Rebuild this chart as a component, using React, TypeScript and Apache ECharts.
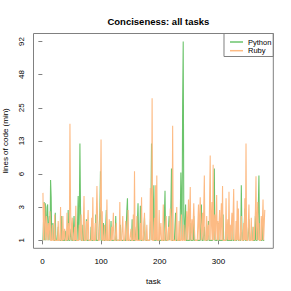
import React, { useEffect, useRef } from "react";
import * as echarts from "echarts";

const title = "Conciseness: all tasks";
const seriesNames = ["Python", "Ruby"];
const xTicks = [0, 100, 200, 300];
const yTickLabels = ["1", "3", "6", "13", "25", "48", "92"];

// minimum lines of code per task (task 1..379)
const python = [
  1,1,3.2,1,3.1,1,1,2.8,3,1,1,2.2,1,5.4,3.6,1,1,1.8,1,1,
  1,2.4,1,1,1,1,1.6,1,1,1,1,1,2.2,1,1,1,1,1,1,1.4,
  1,1,1,2.6,1,1,1,1,1.5,1,1,1,1,2.2,1,1,1,1,1,1.8,
  3.7,1,2.4,12,2.8,1,1,1,1.7,1,1,1,1,1,2,1,1,1,1,1,
  1,1,1.6,1,1,1,1,1,1,1,2.3,1,1,1,1,1,1,2.5,6.6,1,
  1,1,1,1.8,1,1,1,1,2.6,1,1,1,1,1,1,1,1.9,1,1,1,
  1,1,1,1,2.2,1,1,1,1,1,1,1,1.7,1,1,1,1,1,1,1,
  1,1,1,2.6,3.5,1,1,1,1,1,1,1,2,1,1,1,1,1,1,1.6,
  1,1,3.1,1,1,1,2.9,1,1,1,1,1,1,2.1,1,1,1,1,1,1,
  1,1,1,1.8,2.6,12,4.6,1,1,4.8,1,1,1,1.7,1,1,1,1,1,1,
  1,1,1,1,1,1,1,2.4,4.2,1,1,1,1,1,1,2.2,1,1,2.8,7,
  1,1,1,1,1,1,2.4,1,1,1,1,1,1,1,2.1,6.4,3,1,27,92,
  2.2,1,1,3,1,1,1,1,1,1,1,1.8,1,1,1,1,1,2.2,1,1,
  1,1,1,1,1,1,1,1,1,1,3,1,1,1,1,1.6,1,1,1,1,
  1,1,1.9,1,1,1,1,1,1,1,1,2.6,7,1,1,1,1,1,1,1.8,
  1,1,1,1,1,1,1,2.3,1,1,1,1,1,1.7,1,1,1,1,1,1,
  1,1,1,2.2,1,1,1,1,1,1,1,1,2.4,1,1,1,1,1,4.8,1.5,
  1,1,1,1,2.7,1,1,1,1,1,1,2,1,1,1,1,1.6,1,1,1,
  1,1,2.2,1,1,1,1,2.8,6,1,1,1,1,1,2,1,1,1,1,
];

const ruby = [
  4,1,3.1,2.6,1,1,2.2,1,1,1.8,1,1,2.5,1,1,1,1.7,1,1,1,
  2.3,1,1,1,1,1,1.9,1,1,1,2.8,1,1,1,2.2,1,1,1.5,1,1,
  1,2.4,1,1,1.8,1,18,3.2,1,1,2.1,1,1,1,1.6,1,2.9,1,1,1,
  1,1,1.7,1,1,2.3,1,1,1,1,3.7,1,1,1,1.9,1,1,2.6,1,1,
  1,1,1,2.1,1,3.6,1,1,1,1.8,1,1,4.7,2.2,1,1,1,1,3.2,13,
  1,2.5,1,1,1,1.7,1,1,1,3.4,1,1,1,2,1,1,1,1.6,1,1,
  2.4,1,1,1,1,1.8,1,1,1,1,1,3.2,1,1,1,1,2.2,1,1,1,
  1,1.9,1,1,1,2.6,1,1,1,1,1.5,1,1,1,2.3,1,6.6,1,1,1,
  2.2,1,1,1,1,1,1.8,1,3.6,1,1,1,1,2.4,1,1,1,1.7,1,1,
  1,1,1,4.5,2.4,1,30,1,1,1,2.1,1,4.8,1,6,1,1,1,2.6,1,
  1,1.8,1,1,1,3,1,1,1,1,2.2,1,1,1,1.6,1,1,2.7,1,1,
  1,17.3,1,1,1,1,1,1,2.8,1,1,1,1.9,1,1,1,2.3,1,1,1,
  1.7,1,1,1,1,2.5,1,1,3.4,1,1,4.6,1,1,2,1,1,3.1,1.6,1,
  1,1,1,1,1,3,1,1,3.6,1.8,1,1,2.4,1,1,6,1,1,1,2.2,
  1,1,1.7,1,1,9.3,1,1,3.2,1,7.6,1,1,2.3,1,1,3.8,1,1.9,1,
  1,2.6,1,1,3.1,1,4.7,1,1,1,1,1,3.5,1,1,2,1,4.1,1,1.7,
  1,1,2.4,1,1,4.4,1,1,1,1.9,1,3.3,1,2.7,1,1,1,1,2.2,1,
  1,1,1.8,1,3.5,1,12,1,1,1,1,3,1,1,1,2.1,1,1,1,1.6,
  1,1,2.5,5.9,1,1,3.2,1,1.8,1,1,1,2.2,1,1,3.4,1,1.7,2.6,
];

// the y axis is log(1 + lines), rescaled so the 7 labelled ticks fall on 0..6
const LO = Math.log(2);
const HI = Math.log(93);
const toT = (v: number) => (6 * (Math.log(v + 1) - LO)) / (HI - LO);

const FONT = "Liberation Sans, Arial, Helvetica, sans-serif";
const GRAY = "#808080";

export default function App() {
  const ref = useRef<HTMLDivElement>(null);
  useEffect(() => {
    document.body.style.margin = "0";
    const chart = echarts.init(ref.current!, undefined, { renderer: "svg" });
    const build = (arr: number[]) => arr.map((v, i) => [i + 1, toT(v)]);
    chart.setOption({
      animation: false,
      backgroundColor: "#ffffff",
      textStyle: { fontFamily: FONT },
      title: {
        text: title,
        left: 153.4,
        top: 11,
        textAlign: "center",
        textStyle: { fontFamily: FONT, fontSize: 9.5, fontWeight: "bold", color: "#000" },
      },
      grid: {
        left: 33.5,
        right: 17.7,
        top: 33.5,
        bottom: 42.7,
        containLabel: false,
        outerBoundsMode: "none",
        show: true,
        borderColor: GRAY,
        borderWidth: 1,
        backgroundColor: "transparent",
      },
      legend: {
        data: seriesNames,
        orient: "vertical",
        left: 230,
        top: 38,
        padding: 0,
        itemWidth: 13,
        itemHeight: 1.5,
        itemGap: 0.7,
        icon: "rect",
        textStyle: { fontFamily: FONT, fontSize: 7.5, color: "#000", lineHeight: 8 },
      },
      graphic: [
        {
          type: "rect",
          shape: { x: 224, y: 33.5, width: 49.3, height: 23 },
          style: { fill: "none", stroke: GRAY, lineWidth: 1 },
          silent: true,
        },
      ],
      xAxis: {
        type: "value",
        min: -15.1,
        max: 393.5,
        name: "task",
        nameLocation: "middle",
        nameGap: 29,
        nameTextStyle: { fontFamily: FONT, fontSize: 8, color: "#000" },
        axisLine: { show: false },
        splitLine: { show: false },
        axisTick: {
          show: true,
          length: 4,
          lineStyle: { color: GRAY },
          customValues: xTicks,
        },
        axisLabel: {
          customValues: xTicks,
          fontSize: 8,
          color: "#000",
          margin: 9,
          fontFamily: FONT,
        },
      },
      yAxis: {
        type: "value",
        min: -0.24,
        max: 6.24,
        name: "lines of code (min)",
        nameLocation: "middle",
        nameGap: 23,
        nameTextStyle: { fontFamily: FONT, fontSize: 8, color: "#000" },
        axisLine: { show: false },
        splitLine: { show: false },
        axisTick: {
          show: true,
          length: 4,
          lineStyle: { color: GRAY },
          customValues: [0, 1, 2, 3, 4, 5, 6],
        },
        axisLabel: {
          customValues: [0, 1, 2, 3, 4, 5, 6],
          rotate: 90,
          fontSize: 8,
          color: "#000",
          margin: 8,
          fontFamily: FONT,
          formatter: (v: number) => yTickLabels[Math.round(v)] ?? "",
        },
      },
      series: [
        {
          name: seriesNames[0],
          type: "line",
          data: build(python),
          showSymbol: false,
          symbol: "none",
          lineStyle: { color: "#6cc46c", width: 1.1 },
          itemStyle: { color: "#6cc46c" },
        },
        {
          name: seriesNames[1],
          type: "line",
          data: build(ruby),
          showSymbol: false,
          symbol: "none",
          lineStyle: { color: "#fdbb84", width: 1.1 },
          itemStyle: { color: "#fdbb84" },
        },
      ],
    });
    return () => chart.dispose();
  }, []);
  return <div ref={ref} style={{ width: 291, height: 291 }} />;
}
